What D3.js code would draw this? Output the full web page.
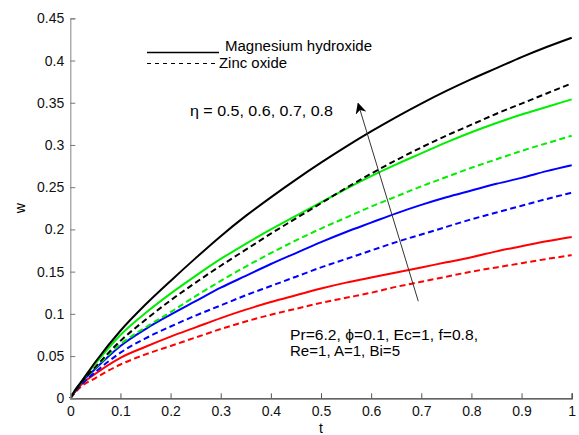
<!DOCTYPE html>
<html>
<head>
<meta charset="utf-8">
<script src="https://cdn.jsdelivr.net/npm/d3@7"></script>
<style>
  html, body { margin: 0; padding: 0; background: #fff; }
  svg { display: block; font-family: "Liberation Sans", Arial, sans-serif; }
</style>
</head>
<body>
<svg id="chart" width="579" height="435"></svg>
<script>
// Time samples (t) shared by all curves
const tValues = [0, 0.01, 0.02, 0.05, 0.1, 0.15, 0.2, 0.25, 0.3, 0.35, 0.4, 0.45,
                 0.5, 0.55, 0.6, 0.65, 0.7, 0.75, 0.8, 0.85, 0.9, 0.95, 1.0];

// Magnesium hydroxide (solid) for eta = 0.5 .. 0.8
const mgEta05 = [0, 0.008, 0.015, 0.029, 0.048, 0.061, 0.073, 0.084, 0.095, 0.105, 0.114, 0.122,
                 0.130, 0.137, 0.143, 0.149, 0.155, 0.161, 0.167, 0.174, 0.180, 0.186, 0.191];
const mgEta06 = [0, 0.009, 0.017, 0.035, 0.062, 0.082, 0.099, 0.115, 0.131, 0.145, 0.159, 0.172,
                 0.185, 0.197, 0.208, 0.219, 0.229, 0.238, 0.246, 0.254, 0.261, 0.269, 0.276];
const mgEta07 = [0, 0.010, 0.018, 0.041, 0.075, 0.101, 0.124, 0.145, 0.165, 0.183, 0.200, 0.216,
                 0.232, 0.248, 0.263, 0.277, 0.290, 0.303, 0.315, 0.326, 0.336, 0.345, 0.354];
const mgEta08 = [0, 0.010, 0.018, 0.043, 0.080, 0.111, 0.139, 0.166, 0.192, 0.216, 0.238, 0.259,
                 0.279, 0.298, 0.316, 0.333, 0.349, 0.364, 0.378, 0.391, 0.404, 0.416, 0.427];

// Zinc oxide (dashed) for eta = 0.5 .. 0.8
const znEta05 = [0, 0.007, 0.013, 0.024, 0.040, 0.052, 0.062, 0.072, 0.082, 0.091, 0.099, 0.106,
                 0.113, 0.119, 0.125, 0.132, 0.138, 0.144, 0.150, 0.155, 0.160, 0.165, 0.1695];
const znEta06 = [0, 0.008, 0.015, 0.031, 0.054, 0.071, 0.085, 0.098, 0.110, 0.122, 0.133, 0.144,
                 0.155, 0.165, 0.175, 0.185, 0.194, 0.203, 0.212, 0.220, 0.228, 0.236, 0.2435];
const znEta07 = [0, 0.009, 0.017, 0.036, 0.064, 0.084, 0.102, 0.121, 0.139, 0.156, 0.172, 0.187,
                 0.201, 0.214, 0.227, 0.239, 0.251, 0.262, 0.273, 0.283, 0.293, 0.302, 0.311];
const znEta08 = [0, 0.009, 0.017, 0.037, 0.068, 0.093, 0.116, 0.137, 0.157, 0.176, 0.195, 0.213,
                 0.231, 0.249, 0.266, 0.282, 0.297, 0.311, 0.324, 0.337, 0.349, 0.361, 0.373];

// Axis ticks
const xTicks = [0, 0.1, 0.2, 0.3, 0.4, 0.5, 0.6, 0.7, 0.8, 0.9, 1];
const yTicks = [0, 0.05, 0.1, 0.15, 0.2, 0.25, 0.3, 0.35, 0.4, 0.45];

const seriesList = [
  { values: znEta05, color: "#ff0000", dashed: true },
  { values: mgEta05, color: "#ff0000", dashed: false },
  { values: znEta06, color: "#0000ff", dashed: true },
  { values: mgEta06, color: "#0000ff", dashed: false },
  { values: znEta07, color: "#00ee00", dashed: true },
  { values: mgEta07, color: "#00ee00", dashed: false },
  { values: znEta08, color: "#000000", dashed: true },
  { values: mgEta08, color: "#000000", dashed: false }
];

const svg = d3.select("#chart");

const x = d3.scaleLinear().domain([0, 1]).range([70.3, 571.7]);
const y = d3.scaleLinear().domain([0, 0.45]).range([398.3, 18.3]);

// Curves
const line = d3.line()
  .x((d, i) => x(tValues[i]))
  .y(d => y(d))
  .curve(d3.curveMonotoneX);

svg.append("g").selectAll("path")
  .data(seriesList)
  .join("path")
  .attr("d", d => line(d.values))
  .attr("fill", "none")
  .attr("stroke", d => d.color)
  .attr("stroke-width", 2)
  .attr("stroke-dasharray", d => d.dashed ? "6,3.5" : null);

// Axes (ticks pointing inward)
const xAxis = svg.append("g")
  .attr("transform", `translate(0,${y(0)})`)
  .call(d3.axisBottom(x).tickValues(xTicks).tickSize(-5).tickPadding(8)
        .tickFormat(d => d3.format("")(d)));
xAxis.select(".domain").attr("stroke", "#333").attr("stroke-width", 1.2);
xAxis.selectAll(".tick line").attr("stroke", "#555");
xAxis.selectAll("text").attr("font-size", 14).attr("fill", "#111");

const yAxis = svg.append("g")
  .attr("transform", `translate(${x(0)},0)`)
  .call(d3.axisLeft(y).tickValues(yTicks).tickSize(-5).tickPadding(6)
        .tickFormat(d => d3.format("")(+d.toFixed(2))));
yAxis.select(".domain").attr("stroke", "#999").attr("stroke-width", 1.2);
yAxis.selectAll(".tick line").attr("stroke", "#777");
yAxis.selectAll("text").attr("font-size", 14).attr("fill", "#111");

// Axis titles
svg.append("text").attr("x", x(0.5)).attr("y", 433)
  .attr("text-anchor", "middle").attr("font-size", 14).text("t");
svg.append("text")
  .attr("transform", `translate(25,${y(0.225)}) rotate(-90)`)
  .attr("text-anchor", "middle").attr("font-size", 14).text("w");

// Legend
const legend = svg.append("g");
legend.append("line").attr("x1", 147).attr("x2", 219).attr("y1", 52.5).attr("y2", 52.5)
  .attr("stroke", "#000").attr("stroke-width", 1.5);
legend.append("text").attr("x", 225).attr("y", 51).attr("font-size", 14)
  .attr("textLength", 147).attr("lengthAdjust", "spacingAndGlyphs").text("Magnesium hydroxide");
legend.append("line").attr("x1", 147).attr("x2", 217).attr("y1", 63.5).attr("y2", 63.5)
  .attr("stroke", "#000").attr("stroke-width", 1).attr("stroke-dasharray", "4,4");
legend.append("text").attr("x", 219).attr("y", 68).attr("font-size", 14)
  .attr("textLength", 68).attr("lengthAdjust", "spacingAndGlyphs").text("Zinc oxide");

// Parameter annotations
svg.append("text").attr("x", 190).attr("y", 115.5).attr("font-size", 14)
  .attr("textLength", 143).attr("lengthAdjust", "spacingAndGlyphs")
  .text("η = 0.5, 0.6, 0.7, 0.8");
svg.append("text").attr("x", 290).attr("y", 340).attr("font-size", 14)
  .attr("textLength", 188).attr("lengthAdjust", "spacingAndGlyphs")
  .text("Pr=6.2, ϕ=0.1, Ec=1, f=0.8,");
svg.append("text").attr("x", 290).attr("y", 356).attr("font-size", 14)
  .attr("textLength", 110).attr("lengthAdjust", "spacingAndGlyphs")
  .text("Re=1, A=1, Bi=5");

// Direction arrow for increasing eta
const arrowFrom = [0.694, 0.115], arrowTo = [0.574, 0.349];
svg.append("defs").append("marker")
  .attr("id", "head").attr("viewBox", "0 0 10 10")
  .attr("refX", 9).attr("refY", 5)
  .attr("markerWidth", 11).attr("markerHeight", 11)
  .attr("markerUnits", "userSpaceOnUse")
  .attr("orient", "auto")
  .append("path").attr("d", "M0,0 L10,5 L0,10 L3,5 Z").attr("fill", "#000");
svg.append("line")
  .attr("x1", x(arrowFrom[0])).attr("y1", y(arrowFrom[1]))
  .attr("x2", x(arrowTo[0])).attr("y2", y(arrowTo[1]))
  .attr("stroke", "#333").attr("stroke-width", 1)
  .attr("marker-end", "url(#head)");
</script>
</body>
</html>
